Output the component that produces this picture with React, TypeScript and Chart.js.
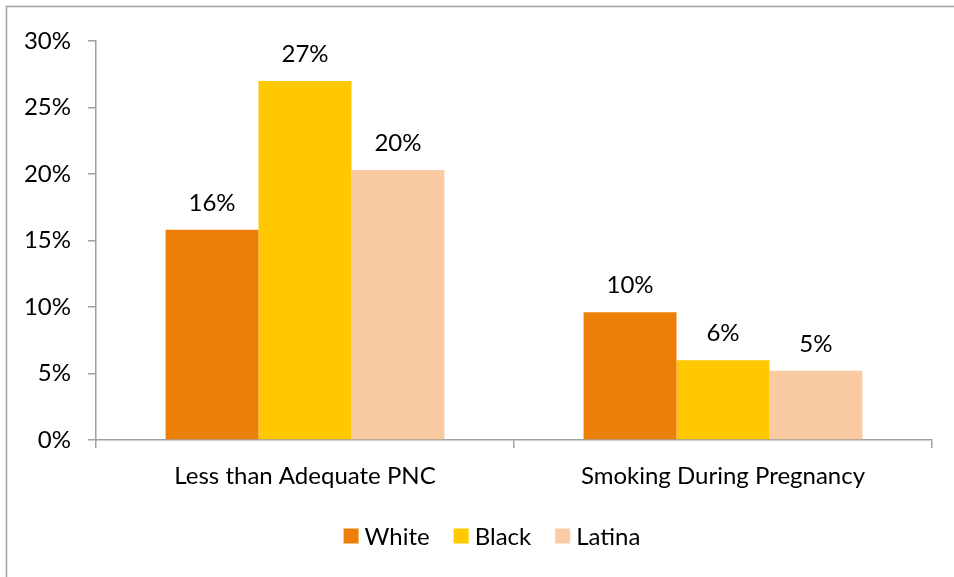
import React, { useEffect, useRef } from "react";
import { Chart, registerables } from "chart.js";

Chart.register(...registerables);

const categories = ["Less than Adequate PNC", "Smoking During Pregnancy"];
const seriesNames = ["White", "Black", "Latina"];
const whiteValues = [15.8, 9.6];
const blackValues = [27.0, 6.0];
const latinaValues = [20.3, 5.2];
const seriesColors = ["#EB7F07", "#FFC800", "#FACBA2"];
const yTicks = [0, 5, 10, 15, 20, 25, 30];

const FONT = "Lato, 'Noto Sans', sans-serif";
const FS = 24;

const framePlugin = {
  id: "frame",
  beforeDraw(chart: any) {
    const ctx = chart.ctx;
    ctx.save();
    ctx.fillStyle = "#ffffff";
    ctx.fillRect(0, 0, chart.width, chart.height);
    ctx.strokeStyle = "#A0A0A0";
    ctx.lineWidth = 1.5;
    ctx.strokeRect(6.5, 6.5, chart.width + 50, chart.height + 50);
    ctx.restore();
  },
};

const labelPlugin = {
  id: "barLabels",
  afterDatasetsDraw(chart: any) {
    const ctx = chart.ctx;
    ctx.save();
    ctx.font = `${FS}px ${FONT}`;
    ctx.fillStyle = "#000000";
    ctx.textAlign = "center";
    ctx.textBaseline = "middle";
    chart.data.datasets.forEach((ds: any, i: number) => {
      const meta = chart.getDatasetMeta(i);
      meta.data.forEach((bar: any, j: number) => {
        const v = ds.data[j];
        ctx.fillText(Math.round(v) + "%", bar.x, bar.y - 27);
      });
    });
    ctx.restore();
  },
};

const legendPlugin = {
  id: "customLegend",
  afterDraw(chart: any) {
    const ctx = chart.ctx;
    ctx.save();
    ctx.font = `${FS}px ${FONT}`;
    ctx.textBaseline = "middle";
    ctx.textAlign = "left";
    const box = 15;
    const gapText = 6;
    const gapItem = 24;
    const items = chart.data.datasets.map((ds: any) => ({
      label: ds.label,
      color: ds.backgroundColor,
      w: box + gapText + ctx.measureText(ds.label).width,
    }));
    const total = items.reduce((s: number, it: any) => s + it.w, 0) + gapItem * (items.length - 1);
    let x = 492 - total / 2;
    const y = 537;
    items.forEach((it: any) => {
      ctx.fillStyle = it.color;
      ctx.fillRect(x, y - box / 2 - 1, box, box);
      ctx.fillStyle = "#000000";
      ctx.fillText(it.label, x + box + gapText, y);
      x += it.w + gapItem;
    });
    ctx.restore();
  },
};

export default function App() {
  const canvasRef = useRef<HTMLCanvasElement | null>(null);

  useEffect(() => {
    if (!canvasRef.current) return;
    const valuesList = [whiteValues, blackValues, latinaValues];
    const chart = new Chart(canvasRef.current, {
      type: "bar",
      data: {
        labels: categories,
        datasets: seriesNames.map((name, i) => ({
          label: name,
          data: valuesList[i],
          backgroundColor: seriesColors[i],
          borderWidth: 0,
          barPercentage: 1,
          categoryPercentage: 0.667,
        })),
      },
      options: {
        animation: false,
        responsive: false,
        maintainAspectRatio: false,
        layout: { padding: { top: 41, right: 22, left: 0, bottom: 0 } },
        plugins: {
          legend: { display: false },
          tooltip: { enabled: false },
        },
        scales: {
          x: {
            offset: true,
            grid: {
              offset: true,
              drawOnChartArea: false,
              drawTicks: true,
              tickLength: 8,
              color: "#A0A0A0",
              lineWidth: 1.5,
            },
            border: { color: "#A0A0A0", width: 1.5 },
            ticks: {
              color: "#000000",
              font: { family: FONT, size: FS },
              padding: 14,
              maxRotation: 0,
            },
            afterFit(scale: any) {
              scale.height = 137;
            },
          },
          y: {
            min: 0,
            max: 30,
            afterBuildTicks(scale: any) {
              scale.ticks = yTicks.map((v) => ({ value: v }));
            },
            grid: {
              drawOnChartArea: false,
              drawTicks: true,
              tickLength: 8,
              color: "#A0A0A0",
              lineWidth: 1.5,
            },
            border: { color: "#A0A0A0", width: 1.5 },
            ticks: {
              color: "#000000",
              font: { family: FONT, size: FS },
              padding: 17,
              callback: (v: any) => v + "%",
            },
            afterFit(scale: any) {
              scale.width = 96;
            },
          },
        },
      },
      plugins: [framePlugin, labelPlugin, legendPlugin],
    });
    return () => chart.destroy();
  }, []);

  return (
    <div style={{ position: "fixed", left: 0, top: 0, width: 954, height: 577, background: "#fff" }}>
      <canvas ref={canvasRef} width={954} height={577} style={{ display: "block", width: 954, height: 577 }} />
    </div>
  );
}
